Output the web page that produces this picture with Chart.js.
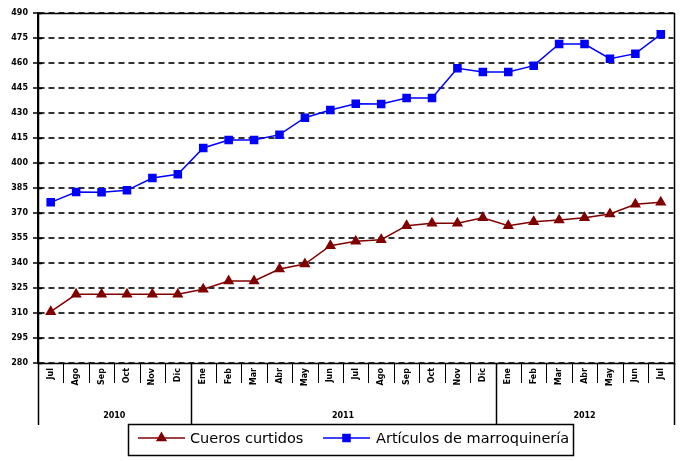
<!DOCTYPE html>
<html>
<head>
<meta charset="utf-8">
<script src="https://cdn.jsdelivr.net/npm/chart.js@4.4.0/dist/chart.umd.min.js"></script>
<style>
    html, body { margin: 0; padding: 0; background: #fff; }
    #wrap { width: 680px; height: 461px; }
</style>
</head>
<body>
<div id="wrap"><canvas id="chart" width="680" height="461"></canvas></div>
<script>
// data
const months = ['Jul', 'Ago', 'Sep', 'Oct', 'Nov', 'Dic',
    'Ene', 'Feb', 'Mar', 'Abr', 'May', 'Jun', 'Jul', 'Ago', 'Sep', 'Oct', 'Nov', 'Dic',
    'Ene', 'Feb', 'Mar', 'Abr', 'May', 'Jun', 'Jul'];
const yearLabels = ['2010', '2011', '2012'];
const yearSpans = [6, 12, 7];

const cuerosCurtidos = [310.8, 321.2, 321.2, 321.2, 321.2, 321.2, 324.2, 329.2, 329.2, 336.4, 339.4, 350.4,
    353.0, 354.0, 362.4, 363.8, 363.8, 367.2, 362.4, 364.8, 365.8, 367.2, 369.4, 375.2, 376.4];
const marroquineria = [376.4, 382.6, 382.4, 383.6, 391.0, 393.2, 409.0, 413.8, 413.8, 417.0, 427.2, 431.8,
    435.5, 435.4, 439.0, 439.0, 456.8, 454.6, 454.6, 458.4, 471.4, 471.4, 462.6, 465.6, 477.2];

const yMin = 280;
const yMax = 490;
const yStep = 15;

const seriesNames = ['Cueros curtidos', 'Artículos de marroquinería'];
const seriesColors = ['#800000', '#0000ff'];
const seriesMarkers = ['triangle', 'rect'];

const tickFont = 'bold 8px "DejaVu Sans"';

// x axis labels, year groups, plot frame and legend box
const decorPlugin = {
    id: 'decor',
    afterDraw(chart) {
        const ctx = chart.ctx;
        const area = chart.chartArea;
        const x = chart.scales.x;
        const y = chart.scales.y;
        const half = (x.getPixelForValue(1) - x.getPixelForValue(0)) / 2;

        ctx.save();
        ctx.strokeStyle = '#000';
        ctx.lineWidth = 1;

        // category tick marks
        ctx.beginPath();
        for (let i = 0; i <= months.length; i++) {
            const px = Math.round(x.getPixelForValue(i) - half) + 0.5;
            ctx.moveTo(px, area.bottom);
            ctx.lineTo(px, area.bottom + 20);
        }
        ctx.stroke();

        // y ticks cross the axis
        ctx.lineWidth = 1.5;
        ctx.beginPath();
        y.ticks.forEach((t) => {
            const py = Math.round(y.getPixelForValue(t.value)) + 0.5;
            ctx.moveTo(area.left, py);
            ctx.lineTo(area.left + 4, py);
        });
        ctx.stroke();

        // year separators
        ctx.beginPath();
        let idx = 0;
        for (let k = 0; k <= yearSpans.length; k++) {
            const px = Math.round(x.getPixelForValue(idx) - half) + 0.5;
            ctx.moveTo(px, area.bottom);
            ctx.lineTo(px, area.bottom + 62);
            if (k < yearSpans.length) idx += yearSpans[k];
        }
        ctx.stroke();

        // plot frame
        ctx.strokeRect(Math.round(area.left) + 0.5, Math.round(area.top) + 0.5,
            Math.round(area.right - area.left), Math.round(area.bottom - area.top));

        // month labels
        ctx.fillStyle = '#000';
        ctx.font = tickFont;
        ctx.textAlign = 'right';
        ctx.textBaseline = 'middle';
        months.forEach((m, i) => {
            ctx.save();
            ctx.translate(x.getPixelForValue(i), area.bottom + 5);
            ctx.rotate(-Math.PI / 2);
            ctx.fillText(m, 0, 0);
            ctx.restore();
        });

        // year labels
        ctx.textAlign = 'center';
        idx = 0;
        yearLabels.forEach((yl, k) => {
            const from = x.getPixelForValue(idx) - half;
            const to = x.getPixelForValue(idx + yearSpans[k] - 1) + half;
            ctx.fillText(yl, (from + to) / 2, area.bottom + 53);
            idx += yearSpans[k];
        });

        // legend
        const lx = 128, ly = 424, lw = 445, lh = 31;
        ctx.lineWidth = 1.5;
        ctx.strokeRect(lx + 0.5, ly + 0.5, lw, lh);
        ctx.font = '14.5px "DejaVu Sans"';
        ctx.textAlign = 'left';
        const cy = ly + 14;
        const items = [{ x0: 138, x1: 185, tx: 190 }, { x0: 323, x1: 370, tx: 376 }];
        items.forEach((it, i) => {
            ctx.strokeStyle = seriesColors[i];
            ctx.lineWidth = 1.5;
            ctx.beginPath();
            ctx.moveTo(it.x0, cy);
            ctx.lineTo(it.x1, cy);
            ctx.stroke();
            Chart.helpers.drawPoint(ctx, {
                pointStyle: seriesMarkers[i], radius: 5, rotation: 0, borderWidth: 1
            }, (it.x0 + it.x1) / 2, cy);
            ctx.fillStyle = seriesColors[i];
            ctx.fill();
            ctx.fillStyle = '#000';
            ctx.fillText(seriesNames[i], it.tx, cy + 1);
        });
        ctx.restore();
    }
};

const ctx = document.getElementById('chart').getContext('2d');

new Chart(ctx, {
    type: 'line',
    data: {
        labels: months,
        datasets: [
            {
                label: seriesNames[0],
                data: cuerosCurtidos,
                borderColor: seriesColors[0],
                backgroundColor: seriesColors[0],
                pointStyle: seriesMarkers[0],
                pointRadius: 5,
                borderWidth: 1.5,
                tension: 0,
            },
            {
                label: seriesNames[1],
                data: marroquineria,
                borderColor: seriesColors[1],
                backgroundColor: seriesColors[1],
                pointStyle: seriesMarkers[1],
                pointRadius: 5,
                borderWidth: 1.5,
                tension: 0,
            },
        ],
    },
    options: {
        responsive: false,
        animation: false,
        layout: { padding: { left: 0, top: 13, right: 3, bottom: 0 } },
        plugins: {
            legend: { display: false },
            tooltip: { enabled: false },
        },
        scales: {
            x: {
                offset: true,
                grid: { display: false },
                border: { display: false },
                ticks: { display: false },
                afterFit: (s) => { s.height = 98; },
            },
            y: {
                min: yMin,
                max: yMax,
                ticks: { stepSize: yStep, font: { family: 'DejaVu Sans', size: 8, weight: 'bold' }, color: '#000', padding: 5 },
                grid: { color: '#333', lineWidth: 2, tickLength: 5, tickColor: '#000', tickWidth: 1.5 },
                border: { dash: [6, 4], color: '#000', width: 1.5 },
                afterFit: (s) => { s.width = 38; },
            },
        },
    },
    plugins: [decorPlugin],
});
</script>
</body>
</html>
